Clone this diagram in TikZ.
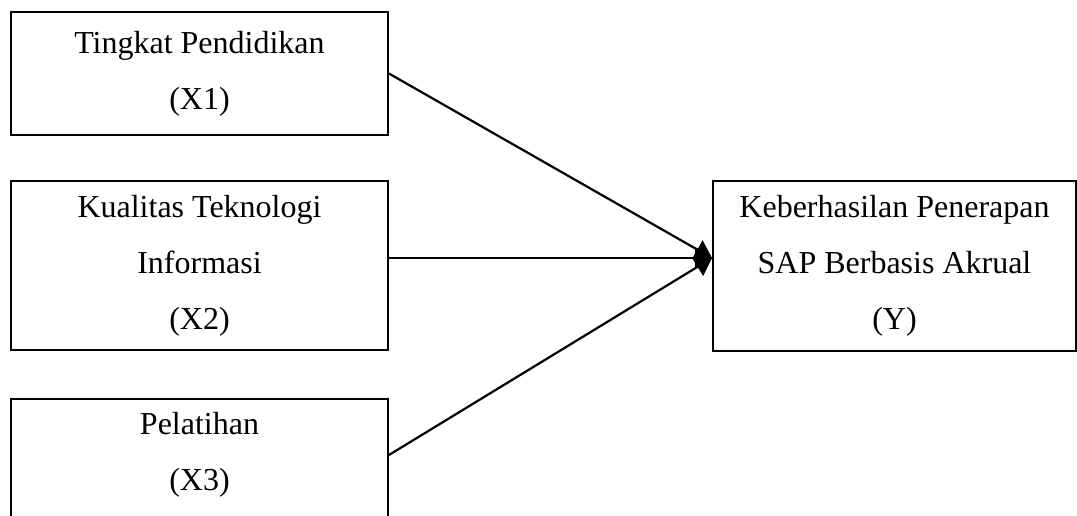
\documentclass[tikz,border=0pt]{standalone}
\usepackage{fontspec}
\setmainfont{Liberation Serif}
\usetikzlibrary{arrows.meta,calc}
\begin{document}
\begin{tikzpicture}[x=1pt,y=-1pt,
  txt/.style={align=center,inner sep=0pt,font=\fontsize{32}{56}\selectfont},
  box/.style={txt,draw,line width=1.9pt,minimum width=377pt},
  conn/.style={line width=2.2pt,-{Triangle[length=17pt,width=21pt]}}]
\useasboundingbox (0,0) rectangle (1077,515);
\node[box,minimum height=123pt] (x1) at (199.5,73.5) {Tingkat Pendidikan\\(X1)};
\node[box,minimum height=169pt] (x2) at (199.5,265.5) {Kualitas Teknologi\\Informasi\\(X2)};
\node[box,minimum height=130pt,anchor=north] (x3) at (199.5,398) {};
\node[txt] (x3t) at (199.5,455) {Pelatihan\\(X3)};
\node[box,minimum width=363pt,minimum height=170pt] (y) at (894.5,266) {Keberhasilan Penerapan\\SAP Berbasis Akrual\\(Y)};
\coordinate (tip) at ($(y.west)+(0,-8)$);
\draw[conn] (x1.east) -- (tip);
\draw[conn] (x2.east |- tip) -- (tip);
\draw[conn] (x3.east |- x3t) -- (tip);
\end{tikzpicture}
\end{document}
